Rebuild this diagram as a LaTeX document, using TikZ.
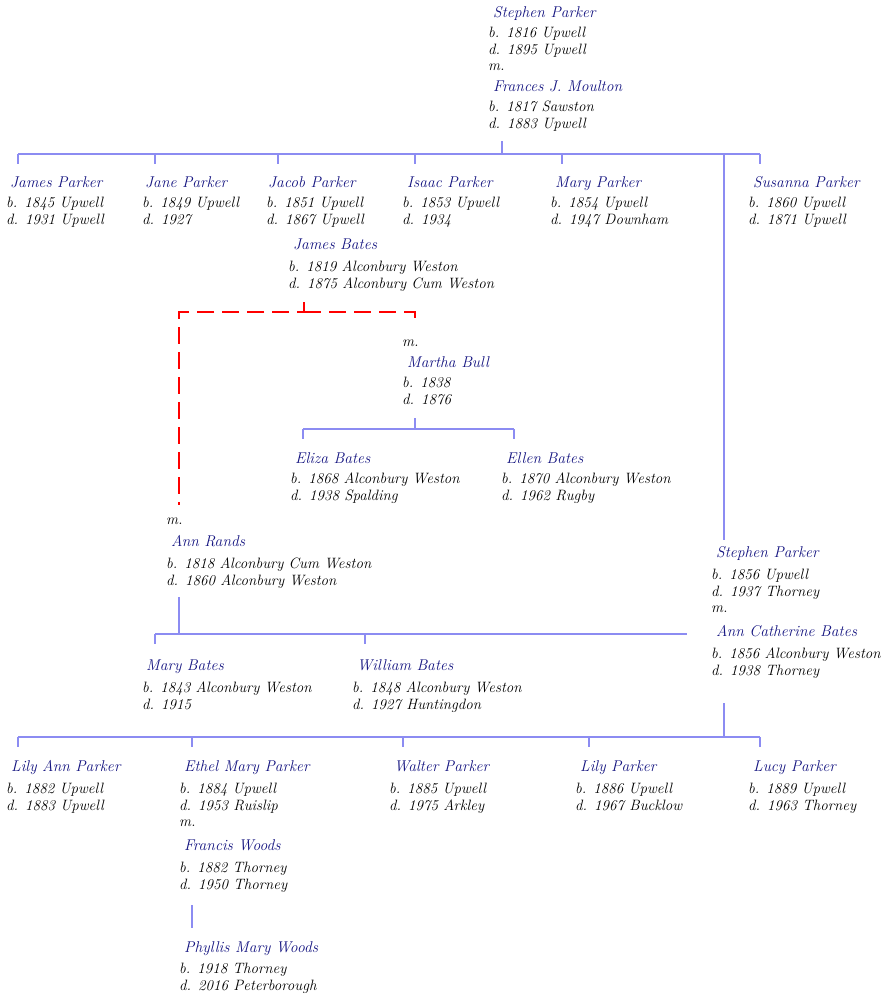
\documentclass[tikz,border=0pt]{standalone}
\usepackage{tikz}
\definecolor{navyname}{HTML}{141480}
\definecolor{kinblue}{HTML}{8C8CF2}
\newcommand{\lifedates}[1]{\begin{tabular}[t]{@{}l@{}}#1\end{tabular}}

\begin{document}
\begin{tikzpicture}[x=1pt,y=-1pt,
	nm/.style={anchor=base west,inner sep=0pt,text=navyname,font=\fontsize{15.6}{17}\selectfont\itshape},
	inf/.style={anchor=base west,inner sep=0pt,font=\fontsize{15}{16.7}\selectfont\itshape},
	kin/.style={draw=kinblue,line width=1.1pt},
	bond/.style={draw=red,line width=1.1pt,dash pattern=on 17pt off 8pt}]
	\useasboundingbox (0,0) rectangle (889,997);
	% Stephen Parker m. Frances J. Moulton
	\node[nm] (sp) at (493,17.5) {Stephen Parker};
	\node[inf] (spi) at (488,37.5) {\lifedates{b. 1816 Upwell\\d. 1895 Upwell\\m.}};
	\node[nm] (fjm) at (493,91.5) {Frances J. Moulton};
	\node[inf] (fjmi) at (488,111.5) {\lifedates{b. 1817 Sawston\\d. 1883 Upwell}};
	% their children
	\node[nm] (jap) at (10,187.5) {James Parker};
	\node[inf] (japi) at (6,207.5) {\lifedates{b. 1845 Upwell\\d. 1931 Upwell}};
	\node[nm] (jnp) at (145,187.5) {Jane Parker};
	\node[inf] (jnpi) at (142,207.5) {\lifedates{b. 1849 Upwell\\d. 1927}};
	\node[nm] (jcp) at (268,187.5) {Jacob Parker};
	\node[inf] (jcpi) at (266,207.5) {\lifedates{b. 1851 Upwell\\d. 1867 Upwell}};
	\node[nm] (isp) at (407,187.5) {Isaac Parker};
	\node[inf] (ispi) at (402,207.5) {\lifedates{b. 1853 Upwell\\d. 1934}};
	\node[nm] (map) at (555,187.5) {Mary Parker};
	\node[inf] (mapi) at (550,207.5) {\lifedates{b. 1854 Upwell\\d. 1947 Downham}};
	\node[nm] (sup) at (753,187.5) {Susanna Parker};
	\node[inf] (supi) at (748,207.5) {\lifedates{b. 1860 Upwell\\d. 1871 Upwell}};
	% James Bates and his two wives
	\node[nm] (jb) at (293,249.5) {James Bates};
	\node[inf] (jbi) at (288,271.5) {\lifedates{b. 1819 Alconbury Weston\\d. 1875 Alconbury Cum Weston}};
	\node[inf] (mbm) at (402,346.5) {m.};
	\node[nm] (mb) at (407,367.5) {Martha Bull};
	\node[inf] (mbi) at (402,387.5) {\lifedates{b. 1838\\d. 1876}};
	\node[nm] (elb) at (295,463.5) {Eliza Bates};
	\node[inf] (elbi) at (290,483.5) {\lifedates{b. 1868 Alconbury Weston\\d. 1938 Spalding}};
	\node[nm] (enb) at (506,463.5) {Ellen Bates};
	\node[inf] (enbi) at (501,483.5) {\lifedates{b. 1870 Alconbury Weston\\d. 1962 Rugby}};
	\node[inf] (arm) at (166,524.5) {m.};
	\node[nm] (ar) at (171,546.5) {Ann Rands};
	\node[inf] (ari) at (166,568.5) {\lifedates{b. 1818 Alconbury Cum Weston\\d. 1860 Alconbury Weston}};
	\node[nm] (myb) at (146,670.5) {Mary Bates};
	\node[inf] (mybi) at (142,692.5) {\lifedates{b. 1843 Alconbury Weston\\d. 1915}};
	\node[nm] (wb) at (357,670.5) {William Bates};
	\node[inf] (wbi) at (352,692.5) {\lifedates{b. 1848 Alconbury Weston\\d. 1927 Huntingdon}};
	% Stephen Parker m. Ann Catherine Bates
	\node[nm] (sp2) at (716,557.5) {Stephen Parker};
	\node[inf] (sp2i) at (711,579.5) {\lifedates{b. 1856 Upwell\\d. 1937 Thorney\\m.}};
	\node[nm] (acb) at (716,636.5) {Ann Catherine Bates};
	\node[inf] (acbi) at (711,658.5) {\lifedates{b. 1856 Alconbury Weston\\d. 1938 Thorney}};
	% their children
	\node[nm] (lap) at (11,771.5) {Lily Ann Parker};
	\node[inf] (lapi) at (6,793.5) {\lifedates{b. 1882 Upwell\\d. 1883 Upwell}};
	\node[nm] (emp) at (184,771.5) {Ethel Mary Parker};
	\node[inf] (empi) at (179,793.5) {\lifedates{b. 1884 Upwell\\d. 1953 Ruislip\\m.}};
	\node[nm] (wp) at (394,771.5) {Walter Parker};
	\node[inf] (wpi) at (389,793.5) {\lifedates{b. 1885 Upwell\\d. 1975 Arkley}};
	\node[nm] (lp) at (580,771.5) {Lily Parker};
	\node[inf] (lpi) at (575,793.5) {\lifedates{b. 1886 Upwell\\d. 1967 Bucklow}};
	\node[nm] (lup) at (753,771.5) {Lucy Parker};
	\node[inf] (lupi) at (748,793.5) {\lifedates{b. 1889 Upwell\\d. 1963 Thorney}};
	\node[nm] (fw) at (184,850.5) {Francis Woods};
	\node[inf] (fwi) at (179,872.5) {\lifedates{b. 1882 Thorney\\d. 1950 Thorney}};
	\node[nm] (pmw) at (184,952.5) {Phyllis Mary Woods};
	\node[inf] (pmwi) at (179,973.5) {\lifedates{b. 1918 Thorney\\d. 2016 Peterborough}};
	% family bars
	\coordinate (famA) at (502,154);
	\coordinate (famB) at (415,429);
	\coordinate (famC) at (179,634);
	\coordinate (famD) at (724,737);
	\coordinate (famE) at (192,928);
	\draw[kin] (502,141) -- (famA);
	\draw[kin] (18,154) -- (760,154);
	\foreach \x in {18,155,278,415,562,760}
		\draw[kin] (\x,154) -- (\x,164);
	\draw[kin] (famA -| 724,0) -- (724,540);
	\draw[kin] (415,418) -- (famB);
	\draw[kin] (303,429) -- (514,429);
	\foreach \x in {303,514}
		\draw[kin] (\x,429) -- (\x,439);
	\draw[kin] (179,597) -- (famC);
	\draw[kin] (155,634) -- (687,634);
	\foreach \x in {155,365}
		\draw[kin] (\x,634) -- (\x,644);
	\draw[kin] (724,703) -- (famD);
	\draw[kin] (18,737) -- (760,737);
	\foreach \x in {18,192,403,589,760}
		\draw[kin] (\x,737) -- (\x,747);
	\draw[kin] (192,905) -- (famE);
	% marriages of James Bates
	\draw[bond] (304,302) -- (304,312) -- (179,312) -- (179,505);
	\draw[bond] (304,312) -- (415,312) -- (415,323);
\end{tikzpicture}
\end{document}
